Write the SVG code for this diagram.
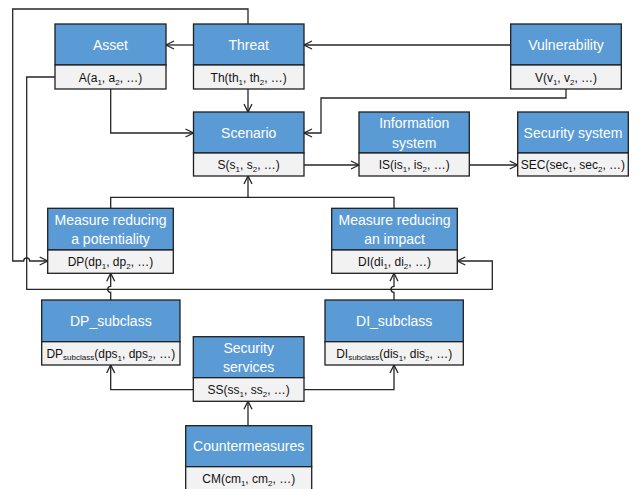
<svg xmlns="http://www.w3.org/2000/svg" width="640" height="489" viewBox="0 0 640 489">
<style>
.hd{fill:#5B9BD5;stroke:#1f1f1f;stroke-width:1.3}
.bd{fill:#F2F2F2;stroke:#1f1f1f;stroke-width:1.3}
.ht{font-family:"Liberation Sans",Arial,sans-serif;font-size:14px;fill:#ffffff;text-anchor:middle}
.bt{font-family:"Liberation Sans",Arial,sans-serif;font-size:12px;fill:#111111;text-anchor:middle}
.sb{font-size:8px}
.cn path{fill:none;stroke:#262626;stroke-width:1.3}
</style>
<defs>
<marker id="ar" markerUnits="userSpaceOnUse" markerWidth="12" markerHeight="12" refX="9" refY="5" orient="auto">
<path d="M1,1 L9,5 L1,9" fill="none" stroke="#262626" stroke-width="1.3"/>
</marker>
</defs>
<rect width="640" height="489" fill="#ffffff"/>
<g class="cn" id="connectors">
<path d="M193.5,45 H166" marker-end="url(#ar)"/>
<path d="M510.7,45 H304" marker-end="url(#ar)"/>
<path d="M248,89 V112" marker-end="url(#ar)"/>
<path d="M110.7,89 V133 H193.5" marker-end="url(#ar)"/>
<path d="M566,89 V98 H321 V133 H304" marker-end="url(#ar)"/>
<path d="M304,165 H359" marker-end="url(#ar)"/>
<path d="M469.3,165 H517.7" marker-end="url(#ar)"/>
<path d="M248,24 V9 H12.7 V261 H23.7 A3,3 0 0 1 29.7,261 H47.7" marker-end="url(#ar)"/>
<path d="M55,77 H26.7 V289.3 H492.3 V261 H457.3" marker-end="url(#ar)"/>
<path d="M110.7,208.3 V197.3 H394 V208.3"/>
<path d="M248,197.3 V176" marker-end="url(#ar)"/>
<path d="M110.7,300 V292.3 A3,3 0 0 1 110.7,286.3 V273.3" marker-end="url(#ar)"/>
<path d="M394,300 V292.3 A3,3 0 0 1 394,286.3 V273.3" marker-end="url(#ar)"/>
<path d="M193.3,389.7 H110.7 V365" marker-end="url(#ar)"/>
<path d="M304,389.7 H394 V365" marker-end="url(#ar)"/>
<path d="M248,425.7 V401.3" marker-end="url(#ar)"/>
</g>
<g id="asset">
<rect class="hd" x="55" y="24" width="111" height="41"/>
<rect class="bd" x="55" y="65" width="111" height="24"/>
<text class="ht" x="110.5" y="49.5">Asset</text>
<text class="bt" x="110.5" y="81.5">A(a<tspan class="sb" dy="3">1</tspan><tspan dy="-3">, a</tspan><tspan class="sb" dy="3">2</tspan><tspan dy="-3">, …)</tspan></text>
</g>
<g id="threat">
<rect class="hd" x="193.5" y="24" width="110.5" height="41"/>
<rect class="bd" x="193.5" y="65" width="110.5" height="24"/>
<text class="ht" x="248.7" y="49.5">Threat</text>
<text class="bt" x="248.7" y="81.5">Th(th<tspan class="sb" dy="3">1</tspan><tspan dy="-3">, th</tspan><tspan class="sb" dy="3">2</tspan><tspan dy="-3">, …)</tspan></text>
</g>
<g id="vulnerability">
<rect class="hd" x="510.7" y="24" width="110.6" height="41"/>
<rect class="bd" x="510.7" y="65" width="110.6" height="24"/>
<text class="ht" x="566" y="49.5">Vulnerability</text>
<text class="bt" x="566" y="81.5">V(v<tspan class="sb" dy="3">1</tspan><tspan dy="-3">, v</tspan><tspan class="sb" dy="3">2</tspan><tspan dy="-3">, …)</tspan></text>
</g>
<g id="scenario">
<rect class="hd" x="193.5" y="112" width="110.5" height="41"/>
<rect class="bd" x="193.5" y="153" width="110.5" height="23"/>
<text class="ht" x="248.7" y="137.5">Scenario</text>
<text class="bt" x="248.7" y="169">S(s<tspan class="sb" dy="3">1</tspan><tspan dy="-3">, s</tspan><tspan class="sb" dy="3">2</tspan><tspan dy="-3">, …)</tspan></text>
</g>
<g id="information-system">
<rect class="hd" x="359" y="112" width="110.3" height="41"/>
<rect class="bd" x="359" y="153" width="110.3" height="23"/>
<text class="ht" x="414.2" y="128">Information</text>
<text class="ht" x="414.2" y="147.5">system</text>
<text class="bt" x="414.2" y="169">IS(is<tspan class="sb" dy="3">1</tspan><tspan dy="-3">, is</tspan><tspan class="sb" dy="3">2</tspan><tspan dy="-3">, …)</tspan></text>
</g>
<g id="security-system">
<rect class="hd" x="517.7" y="112" width="110.6" height="41"/>
<rect class="bd" x="517.7" y="153" width="110.6" height="23"/>
<text class="ht" x="573" y="137.5">Security system</text>
<text class="bt" x="573" y="169">SEC(sec<tspan class="sb" dy="3">1</tspan><tspan dy="-3">, sec</tspan><tspan class="sb" dy="3">2</tspan><tspan dy="-3">, …)</tspan></text>
</g>
<g id="measure-potentiality">
<rect class="hd" x="47.7" y="208.3" width="125.6" height="41.7"/>
<rect class="bd" x="47.7" y="250" width="125.6" height="23.3"/>
<text class="ht" x="110.5" y="224.5">Measure reducing</text>
<text class="ht" x="110.5" y="244">a potentiality</text>
<text class="bt" x="110.5" y="266">DP(dp<tspan class="sb" dy="3">1</tspan><tspan dy="-3">, dp</tspan><tspan class="sb" dy="3">2</tspan><tspan dy="-3">, …)</tspan></text>
</g>
<g id="measure-impact">
<rect class="hd" x="331.7" y="208.3" width="125.6" height="41.7"/>
<rect class="bd" x="331.7" y="250" width="125.6" height="23.3"/>
<text class="ht" x="394.5" y="224.5">Measure reducing</text>
<text class="ht" x="394.5" y="244">an impact</text>
<text class="bt" x="394.5" y="266">DI(di<tspan class="sb" dy="3">1</tspan><tspan dy="-3">, di</tspan><tspan class="sb" dy="3">2</tspan><tspan dy="-3">, …)</tspan></text>
</g>
<g id="dp-subclass">
<rect class="hd" x="41.7" y="300" width="138.3" height="41.7"/>
<rect class="bd" x="41.7" y="341.7" width="138.3" height="23.3"/>
<text class="ht" x="110.8" y="325.5">DP_subclass</text>
<text class="bt" x="110.8" y="357.5">DP<tspan class="sb" dy="2">subclass</tspan><tspan dy="-2">(dps</tspan><tspan class="sb" dy="3">1</tspan><tspan dy="-3">, dps</tspan><tspan class="sb" dy="3">2</tspan><tspan dy="-3">, …)</tspan></text>
</g>
<g id="di-subclass">
<rect class="hd" x="325" y="300" width="138.3" height="41.7"/>
<rect class="bd" x="325" y="341.7" width="138.3" height="23.3"/>
<text class="ht" x="394.2" y="325.5">DI_subclass</text>
<text class="bt" x="394.2" y="357.5">DI<tspan class="sb" dy="2">subclass</tspan><tspan dy="-2">(dis</tspan><tspan class="sb" dy="3">1</tspan><tspan dy="-3">, dis</tspan><tspan class="sb" dy="3">2</tspan><tspan dy="-3">, …)</tspan></text>
</g>
<g id="security-services">
<rect class="hd" x="193.3" y="336.7" width="110.7" height="41"/>
<rect class="bd" x="193.3" y="377.7" width="110.7" height="23.6"/>
<text class="ht" x="248.7" y="353">Security</text>
<text class="ht" x="248.7" y="372">services</text>
<text class="bt" x="248.7" y="394">SS(ss<tspan class="sb" dy="3">1</tspan><tspan dy="-3">, ss</tspan><tspan class="sb" dy="3">2</tspan><tspan dy="-3">, …)</tspan></text>
</g>
<g id="countermeasures">
<rect class="hd" x="185.7" y="425.7" width="126" height="41"/>
<rect class="bd" x="185.7" y="466.7" width="126" height="25"/>
<text class="ht" x="248.7" y="451">Countermeasures</text>
<text class="bt" x="248.7" y="483">CM(cm<tspan class="sb" dy="3">1</tspan><tspan dy="-3">, cm</tspan><tspan class="sb" dy="3">2</tspan><tspan dy="-3">, …)</tspan></text>
</g>
</svg>
